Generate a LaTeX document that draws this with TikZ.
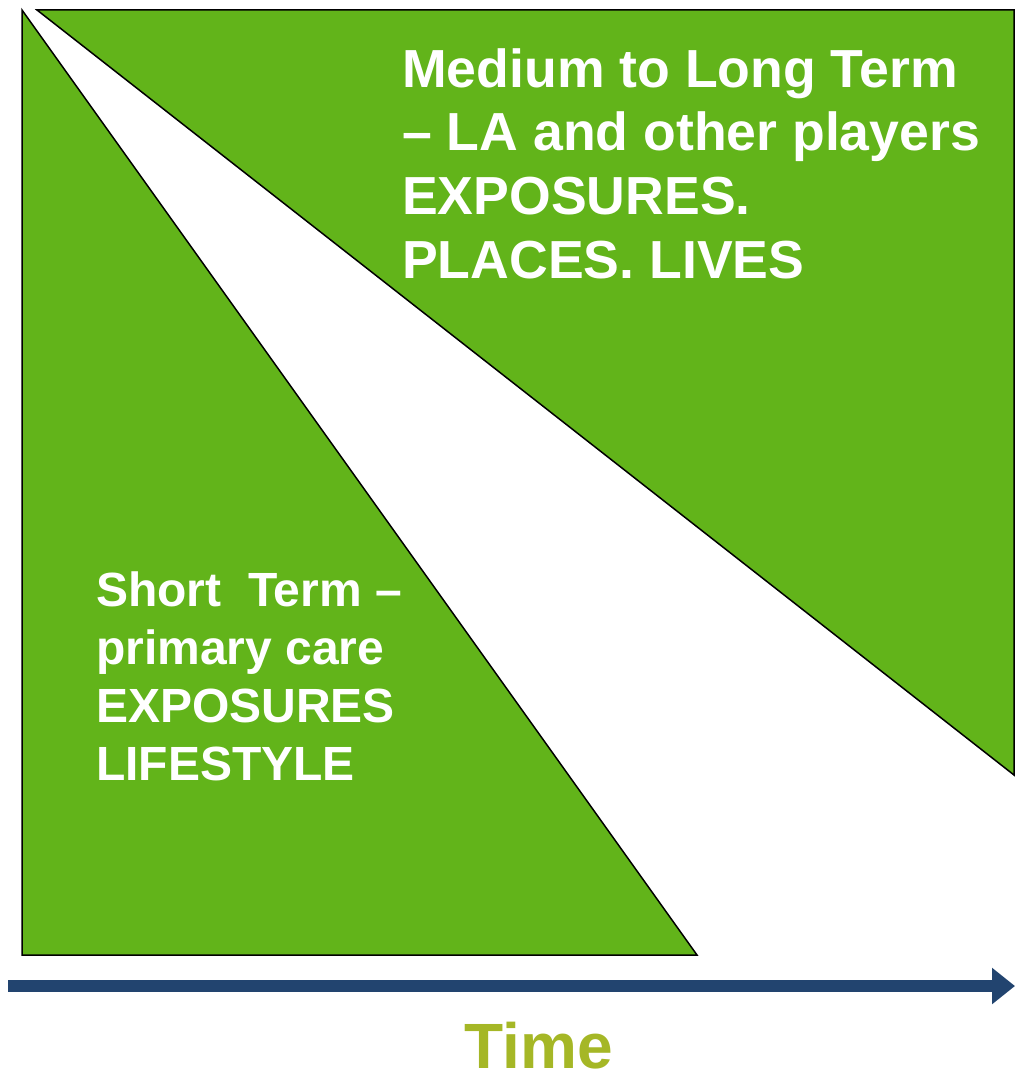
\documentclass[tikz,border=0pt]{standalone}
\usepackage{fontspec}
\setmainfont{Liberation Sans}
\usetikzlibrary{arrows.meta}
\definecolor{wedgegreen}{HTML}{62B41A}
\definecolor{timeblue}{HTML}{22446F}
\definecolor{timeolive}{HTML}{A5B726}
\begin{document}
\begin{tikzpicture}[x=1pt,y=-1pt]
            \tikzstyle{wedge} = [fill=wedgegreen, draw=black, line width=1.5pt, line join=miter]
            \tikzstyle{blocktext} = [anchor=base west, inner sep=0pt, align=left, text=white, font=\bfseries]
            \tikzstyle{timeline} = [line width=12pt, draw=timeblue, -{Triangle[length=23pt,width=35pt]}]

            \useasboundingbox (0,0) rectangle (1015,1075);

            % Wedges
            \draw [wedge] (22,10) -- (22,955) -- (697,955) -- cycle;
            \draw [wedge] (37,10) -- (1014,10) -- (1014,775) -- cycle;

            % Nodes (base west sits on the last line)
            \node (longterm) [blocktext, font=\fontsize{53.6}{63.5}\selectfont\bfseries] at (402,278)
                {Medium to Long Term\\– LA and other players\\EXPOSURES.\\PLACES. LIVES};
            \node (shortterm) [blocktext, font=\fontsize{48}{57.7}\selectfont\bfseries] at (96,780)
                {Short~ Term –\\primary care\\EXPOSURES\\LIFESTYLE};
            \node (time) [anchor=base, inner sep=0pt, text depth=0pt, text=timeolive, font=\fontsize{64}{70}\selectfont\bfseries] at (539,1068) {Time};

            % Arrows
            \coordinate (start) at (8,986);
            \coordinate (stop) at (1015,986);
            \draw [timeline] (start) -- (stop);
        \end{tikzpicture}
\end{document}
